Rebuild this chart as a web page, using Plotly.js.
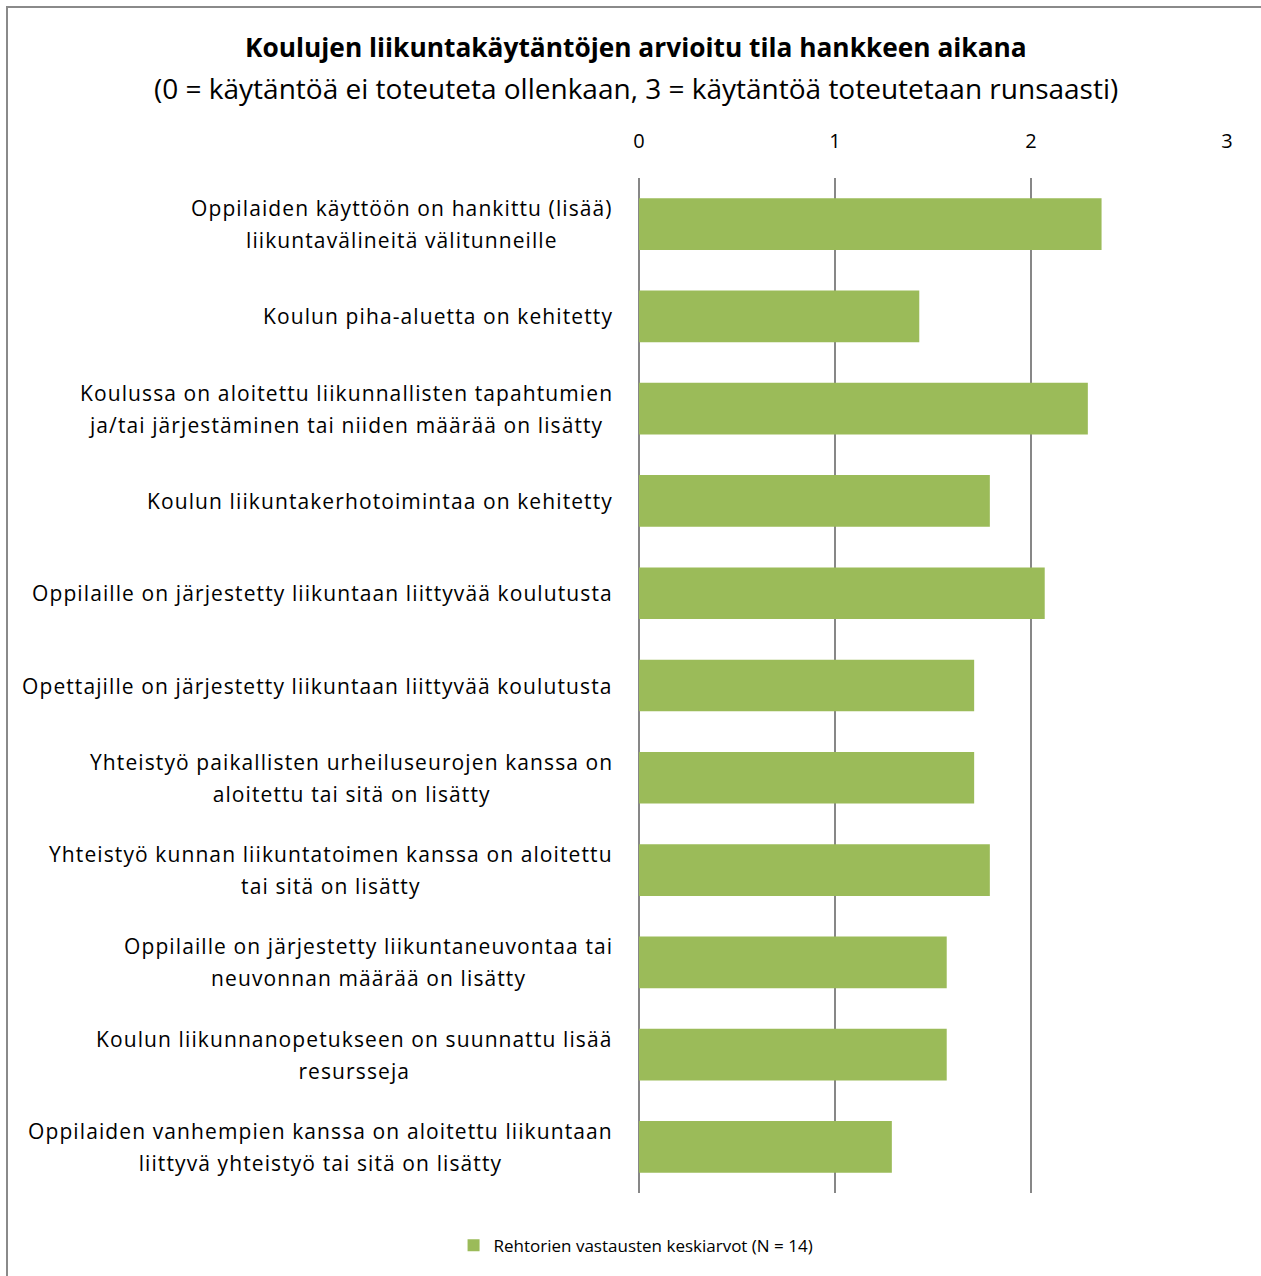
<!DOCTYPE html>
<html>
<head>
<meta charset="utf-8">
<script src="https://cdn.plot.ly/plotly-3.0.1.min.js"></script>
<style>
  html, body { margin: 0; padding: 0; background: #fff; }
  #wrap { position: relative; width: 1261px; height: 1276px; }
  #chart { width: 1261px; height: 1276px; }
  #frame { position: absolute; left: 6px; top: 6px; right: -4px; bottom: -4px;
           border: 2px solid #8a8a8a; pointer-events: none; }
  text.annotation-text:not([data-unformatted^="<b>"]):not([data-unformatted^="(0"]) { letter-spacing: 1.1px; }
</style>
</head>
<body>
<div id="wrap">
  <div id="chart"></div>
  <div id="frame"></div>
</div>
<script>
const categories = [
  "Oppilaiden käyttöön on hankittu (lisää)<br>liikuntavälineitä välitunneille",
  "Koulun piha-aluetta on kehitetty",
  "Koulussa on aloitettu liikunnallisten tapahtumien<br>ja/tai järjestäminen tai niiden määrää on lisätty",
  "Koulun liikuntakerhotoimintaa on kehitetty",
  "Oppilaille on järjestetty liikuntaan liittyvää koulutusta",
  "Opettajille on järjestetty liikuntaan liittyvää koulutusta",
  "Yhteistyö paikallisten urheiluseurojen kanssa on<br>aloitettu tai sitä on lisätty",
  "Yhteistyö kunnan liikuntatoimen kanssa on aloitettu<br>tai sitä on lisätty",
  "Oppilaille on järjestetty liikuntaneuvontaa tai<br>neuvonnan määrää on lisätty",
  "Koulun liikunnanopetukseen on suunnattu lisää<br>resursseja",
  "Oppilaiden vanhempien kanssa on aloitettu liikuntaan<br>liittyvä yhteistyö tai sitä on lisätty"
];
const values = [2.36, 1.43, 2.29, 1.79, 2.07, 1.71, 1.71, 1.79, 1.57, 1.57, 1.29];
const seriesName = "Rehtorien vastausten keskiarvot (N = 14)";
const xTickVals = [0, 1, 2, 3];
const xTickText = ["0", "1", "2", "3"];
const titleText = "Koulujen liikuntakäytäntöjen arvioitu tila hankkeen aikana";
const subtitleText = "(0 = käytäntöä ei toteuteta ollenkaan, 3 = käytäntöä toteutetaan runsaasti)";

const FONT = "'Open Sans', sans-serif";
const ids = categories.map((c, i) => "c" + i);

const trace = {
  type: "bar",
  orientation: "h",
  x: values,
  y: ids,
  name: seriesName,
  marker: { color: "#9BBB59" },
  showlegend: true,
  hoverinfo: "x"
};

// glyphs at 21px, line pitch based on the annotation font size (~32px)
const wrapLines = s => s.split("<br>").map(l => "<span style='font-size:21px'>" + l + "</span>").join("<br>");

const annotations = categories.map((c, i) => ({
  xref: "paper", yref: "y",
  x: -0.04, y: ids[i],
  xanchor: "right", yanchor: "middle",
  align: "center",
  text: wrapLines(c),
  showarrow: false,
  font: { family: FONT, size: 24.6, color: "#000" }
}));
annotations.push({
  xref: "paper", yref: "paper", x: -0.005, y: 1.1288,
  xanchor: "center", yanchor: "middle", showarrow: false,
  text: "<b>" + titleText + "</b>",
  font: { family: FONT, size: 26.3, color: "#000" }
});
annotations.push({
  xref: "paper", yref: "paper", x: -0.005, y: 1.0885,
  xanchor: "center", yanchor: "middle", showarrow: false,
  text: subtitleText,
  font: { family: FONT, size: 28, color: "#000" }
});

const layout = {
  width: 1261, height: 1276,
  margin: { l: 639, r: 34, t: 178, b: 81 },
  paper_bgcolor: "#fff", plot_bgcolor: "#fff",
  font: { family: FONT, color: "#000" },
  xaxis: {
    side: "top",
    range: [0, 3],
    tickvals: xTickVals,
    ticktext: xTickText,
    showgrid: true, gridcolor: "#878787", gridwidth: 2,
    zeroline: true, zerolinecolor: "#878787", zerolinewidth: 2,
    showline: false, ticks: "",
    ticklabelstandoff: 25,
    tickfont: { family: FONT, size: 20, color: "#000" },
    fixedrange: true
  },
  yaxis: {
    autorange: "reversed",
    showticklabels: false,
    showgrid: false, zeroline: false, showline: false, ticks: "",
    fixedrange: true
  },
  bargap: 0.44,
  legend: {
    orientation: "h",
    x: -0.005, xanchor: "center",
    y: -0.052, yanchor: "middle",
    font: { family: FONT, size: 17, color: "#000" }
  },
  annotations: annotations
};

Plotly.newPlot("chart", [trace], layout, { displayModeBar: false, staticPlot: true });
</script>
</body>
</html>
